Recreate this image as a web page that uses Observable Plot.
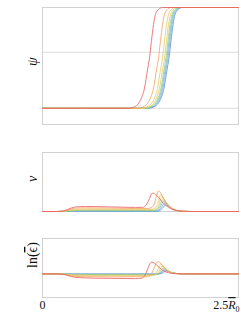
<!DOCTYPE html>
<html><head><meta charset="utf-8">
<script src="https://cdn.jsdelivr.net/npm/d3@7"></script>
<script src="https://cdn.jsdelivr.net/npm/@observablehq/plot@0.6"></script>
<style>
body{margin:0;background:#fff;}
#chart{position:relative;width:241px;height:316px;overflow:hidden;}
#chart svg{position:absolute;left:0;}
</style></head><body><div id="chart"></div>
<script>
// series, drawn from back (blue) to front (red)
const seriesNames = ["blue","lightblue","teal","green","yellowgreen","yellow","orange","red"];
const seriesColors = ["#5a86e0","#78ade0","#6bbcae","#98c985","#cdd06a","#f0c467","#f3a05a","#ea5a5e"];
const xDomain = [0, 2.5];
const xTicks = [0, 2.5];
const xTickLabels = ["0", "2.5R0"];

// Panel 1: psi (levels shared, x where each curve reaches the level)
const psiGrid = [0, 1];
const psiDomain = [-0.29, 1.8];
const psiLevels = [0, 0, 0.036, 0.144, 0.36, 0.684, 0.9, 1.206, 1.494, 1.674, 1.764, 1.8, 1.8];
const psiXRed        = [0,1.097,1.186,1.250,1.301,1.339,1.365,1.390,1.416,1.441,1.480,1.531,2.5];
const psiXOrange     = [0,1.212,1.301,1.365,1.416,1.454,1.480,1.505,1.531,1.556,1.594,1.645,2.5];
const psiXYellow     = [0,1.263,1.352,1.416,1.467,1.505,1.531,1.556,1.582,1.607,1.645,1.696,2.5];
const psiXYellowGreen= [0,1.288,1.378,1.441,1.492,1.531,1.556,1.582,1.607,1.633,1.671,1.722,2.5];
const psiXGreen      = [0,1.307,1.397,1.460,1.511,1.550,1.575,1.601,1.626,1.652,1.690,1.741,2.5];
const psiXTeal       = [0,1.320,1.410,1.473,1.524,1.563,1.588,1.614,1.639,1.665,1.703,1.754,2.5];
const psiXLightBlue  = [0,1.333,1.422,1.486,1.537,1.575,1.601,1.626,1.652,1.677,1.716,1.767,2.5];
const psiXBlue       = [0,1.346,1.435,1.499,1.550,1.588,1.614,1.639,1.665,1.690,1.728,1.780,2.5];

// Panel 2: nu  [x, nu]
const nuDomain = [0, 1];
const nuRed = [[0,0],[0.179,0],[0.268,0.01],[0.332,0.04],[0.408,0.075],[0.548,0.085],[0.867,0.078],[1.186,0.07],[1.276,0.07],[1.327,0.12],[1.365,0.22],[1.397,0.31],[1.429,0.30],[1.480,0.24],[1.543,0.14],[1.607,0.07],[1.684,0.025],[1.786,0.005],[1.888,0],[2.5,0]];
const nuOrange = [[0,0],[0.179,0],[0.268,0.008],[0.332,0.03],[0.408,0.055],[0.548,0.062],[0.867,0.058],[1.186,0.052],[1.352,0.052],[1.416,0.1],[1.454,0.26],[1.480,0.35],[1.505,0.32],[1.543,0.22],[1.607,0.11],[1.671,0.04],[1.760,0.008],[1.888,0],[2.5,0]];
const nuYellow = [[0,0],[0.179,0],[0.268,0.005],[0.332,0.02],[0.408,0.035],[0.548,0.042],[0.867,0.04],[1.186,0.037],[1.405,0.037],[1.467,0.12],[1.505,0.28],[1.531,0.26],[1.569,0.17],[1.620,0.08],[1.684,0.025],[1.786,0.004],[1.9,0],[2.5,0]];
const nuYellowGreen = [[0,0],[0.179,0],[0.268,0.004],[0.332,0.015],[0.408,0.025],[0.548,0.03],[0.867,0.029],[1.186,0.027],[1.416,0.027],[1.480,0.1],[1.518,0.24],[1.543,0.22],[1.582,0.15],[1.633,0.07],[1.696,0.02],[1.8,0.003],[1.9,0],[2.5,0]];
const nuGreen = [[0,0],[0.179,0],[0.268,0.003],[0.332,0.01],[0.408,0.017],[0.548,0.02],[0.867,0.019],[1.186,0.018],[1.429,0.018],[1.492,0.09],[1.531,0.2],[1.556,0.18],[1.594,0.12],[1.645,0.055],[1.709,0.015],[1.8,0.002],[1.9,0],[2.5,0]];
const nuTeal = [[0,0],[0.179,0],[0.268,0.002],[0.332,0.006],[0.408,0.01],[0.548,0.012],[0.867,0.012],[1.186,0.011],[1.441,0.011],[1.505,0.08],[1.543,0.17],[1.569,0.15],[1.607,0.1],[1.658,0.045],[1.722,0.012],[1.82,0.001],[1.9,0],[2.5,0]];
const nuLightBlue = [[0,0],[0.179,0],[0.268,0.001],[0.332,0.003],[0.408,0.005],[0.548,0.006],[0.867,0.006],[1.186,0.006],[1.454,0.006],[1.518,0.07],[1.556,0.14],[1.582,0.125],[1.620,0.08],[1.671,0.035],[1.735,0.01],[1.83,0.001],[1.9,0],[2.5,0]];
const nuBlue = [[0,0],[0.179,0],[0.332,0.001],[0.408,0.002],[0.548,0.003],[0.867,0.003],[1.186,0.003],[1.467,0.003],[1.531,0.055],[1.569,0.11],[1.594,0.1],[1.633,0.065],[1.684,0.028],[1.748,0.008],[1.84,0.001],[1.9,0],[2.5,0]];

// Panel 3: ln(eps)  [x, value]
const epsDomain = [-1, 1.5];
const epsRed = [[0,0],[0.179,0],[0.268,-0.02],[0.332,-0.08],[0.408,-0.14],[0.548,-0.17],[0.867,-0.19],[1.186,-0.2],[1.263,-0.18],[1.314,-0.02],[1.352,0.3],[1.390,0.5],[1.429,0.45],[1.480,0.3],[1.543,0.13],[1.607,0.05],[1.696,0.01],[1.82,0],[2.5,0]];
const epsOrange = [[0,0],[0.179,0],[0.268,-0.015],[0.332,-0.06],[0.408,-0.1],[0.548,-0.12],[0.867,-0.125],[1.186,-0.12],[1.339,-0.12],[1.390,0],[1.429,0.3],[1.467,0.52],[1.492,0.5],[1.531,0.35],[1.582,0.17],[1.645,0.06],[1.722,0.01],[1.85,0],[2.5,0]];
const epsYellow = [[0,0],[0.179,0],[0.268,-0.01],[0.332,-0.04],[0.408,-0.065],[0.548,-0.08],[0.867,-0.08],[1.186,-0.08],[1.390,-0.08],[1.441,0],[1.480,0.25],[1.505,0.42],[1.531,0.38],[1.569,0.22],[1.620,0.09],[1.684,0.025],[1.76,0.005],[1.88,0],[2.5,0]];
const epsYellowGreen = [[0,0],[0.179,0],[0.268,-0.005],[0.332,-0.025],[0.408,-0.04],[0.548,-0.05],[0.867,-0.05],[1.186,-0.05],[1.416,-0.05],[1.467,0.02],[1.505,0.25],[1.524,0.32],[1.556,0.27],[1.594,0.15],[1.645,0.06],[1.709,0.015],[1.8,0.002],[1.9,0],[2.5,0]];
const epsGreen = [[0,0],[0.179,0],[0.268,-0.004],[0.332,-0.015],[0.408,-0.028],[0.548,-0.035],[0.867,-0.035],[1.186,-0.034],[1.429,-0.034],[1.486,0.03],[1.524,0.22],[1.543,0.25],[1.569,0.2],[1.607,0.11],[1.658,0.045],[1.722,0.01],[1.82,0],[2.5,0]];
const epsTeal = [[0,0],[0.179,0],[0.268,-0.002],[0.332,-0.008],[0.408,-0.016],[0.548,-0.02],[0.867,-0.02],[1.186,-0.02],[1.441,-0.02],[1.499,0.03],[1.537,0.18],[1.556,0.2],[1.582,0.16],[1.620,0.09],[1.671,0.035],[1.735,0.008],[1.83,0],[2.5,0]];
const epsLightBlue = [[0,0],[0.179,0],[0.332,-0.004],[0.408,-0.008],[0.548,-0.01],[0.867,-0.01],[1.186,-0.01],[1.454,-0.01],[1.511,0.03],[1.550,0.15],[1.569,0.16],[1.594,0.13],[1.633,0.07],[1.684,0.028],[1.748,0.006],[1.84,0],[2.5,0]];
const epsBlue = [[0,0],[0.179,0],[0.408,-0.003],[0.548,-0.004],[0.867,-0.004],[1.186,-0.004],[1.467,-0.004],[1.524,0.025],[1.563,0.11],[1.582,0.12],[1.607,0.1],[1.645,0.055],[1.696,0.022],[1.760,0.005],[1.85,0],[2.5,0]];

// ---- build tables ----
const psiX = [psiXBlue, psiXLightBlue, psiXTeal, psiXGreen, psiXYellowGreen, psiXYellow, psiXOrange, psiXRed];
const nuSets = [nuBlue, nuLightBlue, nuTeal, nuGreen, nuYellowGreen, nuYellow, nuOrange, nuRed];
const epsSets = [epsBlue, epsLightBlue, epsTeal, epsGreen, epsYellowGreen, epsYellow, epsOrange, epsRed];

const psiRows = psiX.flatMap((xs, i) => xs.map((x, j) => ({s: seriesNames[i], x, y: psiLevels[j]})));
const nuRows = nuSets.flatMap((set, i) => set.map(([x, y]) => ({s: seriesNames[i], x, y})));
const epsRows = epsSets.flatMap((set, i) => set.map(([x, y]) => ({s: seriesNames[i], x, y})));

const FONT = "'Liberation Serif','DejaVu Serif',serif";
const chart = document.getElementById("chart");

function panel({top, height, mt, mb, yDomain, grid, rows, label, italic, labelSize, xAxis}) {
  const marks = [
    Plot.ruleY(grid, {stroke: "#dcdcdc", strokeWidth: 1}),
    Plot.frame({stroke: "#d2d2d2", strokeWidth: 1}),
    Plot.line(rows, {x: "x", y: "y", z: "s", stroke: "s", curve: "monotone-x", strokeWidth: 0.8}),
    Plot.text([label], {text: d => d, frameAnchor: "left", dx: -10, rotate: -90,
      fontSize: labelSize, fontStyle: italic ? "italic" : "normal", fill: "#111"})
  ];
  if (xAxis) {
    marks.push(Plot.axisX([xTicks[0]], {tickSize: 0, tickPadding: 3, fontSize: 12, label: null,
      tickFormat: () => xTickLabels[0], textAnchor: "middle", fill: "#111"}));
    marks.push(Plot.axisX([xTicks[1]], {tickSize: 0, tickPadding: 3, fontSize: 12, label: null,
      tickFormat: () => xTickLabels[1], textAnchor: "end", dx: 1, fill: "#111"}));
  }
  const svg = Plot.plot({
    width: 241, height,
    marginLeft: 42, marginRight: 3, marginTop: mt, marginBottom: mb,
    x: {domain: xDomain, axis: null},
    y: {domain: yDomain, axis: null},
    color: {domain: seriesNames, range: seriesColors},
    style: {fontFamily: FONT, background: "transparent", overflow: "visible"},
    marks
  });
  svg.style.top = top + "px";
  chart.appendChild(svg);
  return svg;
}

panel({top: 0, height: 130, mt: 7, mb: 6, yDomain: psiDomain, grid: psiGrid, rows: psiRows, label: "ψ", italic: true, labelSize: 14});
panel({top: 130, height: 90, mt: 22, mb: 9, yDomain: nuDomain, grid: [], rows: nuRows, label: "ν", italic: true, labelSize: 14});
const p3 = panel({top: 220, height: 96, mt: 18, mb: 19, yDomain: epsDomain, grid: [], rows: epsRows, label: "ln(ϵ)", italic: false, labelSize: 14, xAxis: true});

// rich text for the labels
d3.select(p3).selectAll("text").each(function () {
  const t = d3.select(this);
  if (this.textContent === "ln(ϵ)") {
    t.text("");
    t.append("tspan").text("ln(");
    t.append("tspan").attr("text-decoration", "overline").text("ϵ");
    t.append("tspan").text(")");
  } else if (this.textContent === "2.5R0") {
    t.text("");
    t.append("tspan").text("2.5");
    t.append("tspan").attr("font-style", "italic").attr("text-decoration", "overline").text("R");
    t.append("tspan").attr("font-size", "8").attr("dy", "3").text("0");
  }
});
</script></body></html>
